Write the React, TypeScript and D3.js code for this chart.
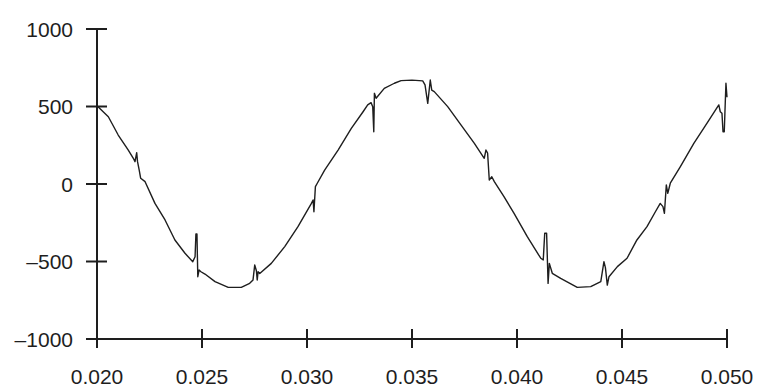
import React from "react";
import * as d3 from "d3";

const timeValues: number[] = [
  0.02, 0.02054, 0.02101, 0.02149, 0.02173, 0.02181, 0.02189, 0.02193, 0.02201, 0.02208,
  0.02229, 0.02276, 0.02324, 0.02371, 0.02419, 0.02456, 0.02467, 0.02471, 0.02476, 0.0248,
  0.02486, 0.02495, 0.02514, 0.02562, 0.02625, 0.02687, 0.02727, 0.02743, 0.02751, 0.02759,
  0.02763, 0.02767, 0.02775, 0.0283, 0.02894, 0.02957, 0.03021, 0.03029, 0.03033, 0.0304,
  0.03049, 0.03084, 0.03148, 0.03211, 0.03267, 0.03289, 0.03305, 0.03313, 0.03318, 0.03321,
  0.03329, 0.03368, 0.03416, 0.03448, 0.035, 0.03551, 0.03562, 0.03575, 0.03587, 0.03594,
  0.03606, 0.0367, 0.03733, 0.03797, 0.03844, 0.03852, 0.0386, 0.03868, 0.0388, 0.03892,
  0.03938, 0.03986, 0.04049, 0.04113, 0.04125, 0.04132, 0.04141, 0.04148, 0.04154, 0.04168,
  0.04208, 0.04287, 0.04351, 0.04399, 0.04414, 0.04421, 0.0443, 0.04438, 0.04478, 0.04524,
  0.04571, 0.04619, 0.04659, 0.04682, 0.04695, 0.04702, 0.04711, 0.04718, 0.0473, 0.04778,
  0.04842, 0.04905, 0.04961, 0.04968, 0.04976, 0.04981, 0.04987, 0.0499, 0.04995, 0.05
];

const voltageValues: number[] = [
  505, 434, 316, 219, 166, 144, 202, 144, 90, 37,
  15, -125, -232, -361, -447, -501, -469, -323, -323, -598,
  -555, -566, -581, -630, -667, -667, -641, -619, -523, -560,
  -619, -566, -577, -512, -404, -275, -125, -103, -179, -17,
  5, 90, 219, 359, 466, 510, 525, 499, 337, 585,
  553, 617, 650, 667, 670, 665, 639, 520, 671, 606,
  596, 499, 381, 262, 166, 219, 200, 26, 47, 15,
  -82, -189, -340, -479, -490, -318, -318, -641, -512, -576,
  -609, -667, -662, -630, -501, -540, -652, -598, -533, -479,
  -361, -275, -179, -125, -146, -189, -6, -60, 5, 112,
  262, 392, 510, 466, 456, 337, 337, 456, 650, 560
];

const xTicks: number[] = [0.02, 0.025, 0.03, 0.035, 0.04, 0.045, 0.05];
const xTickLabels: string[] = ["0.020", "0.025", "0.030", "0.035", "0.040", "0.045", "0.050"];
const yTicks: number[] = [1000, 500, 0, -500, -1000];
const yTickLabels: string[] = ["1000", "500", "0", "–500", "–1000"];

export default function App() {
  const W = 771;
  const H = 391;
  const left = 97;
  const right = 727;
  const top = 29;
  const bottom = 339;

  const x = d3.scaleLinear().domain([0.02, 0.05]).range([left, right]);
  const y = d3.scaleLinear().domain([-1000, 1000]).range([bottom, top]);

  const data = timeValues.map((t, i) => [t, voltageValues[i]] as [number, number]);
  const line = d3
    .line<[number, number]>()
    .x((d) => x(d[0]))
    .y((d) => y(d[1]))
    .curve(d3.curveLinear);

  const ink = "#1e1e1e";
  const font = "'Liberation Sans', Arial, Helvetica, sans-serif";

  return (
    <svg
      width={W}
      height={H}
      style={{ position: "absolute", left: 0, top: 0, background: "#fff" }}
    >
      <rect x={0} y={0} width={W} height={H} fill="#fff" />
      {/* axes */}
      <line x1={left} y1={top} x2={left} y2={bottom} stroke={ink} strokeWidth={2} />
      <line x1={left} y1={bottom} x2={right} y2={bottom} stroke={ink} strokeWidth={2} />
      {yTicks.map((v, i) => (
        <g key={"y" + i}>
          <line x1={left - 11} x2={left + 10} y1={y(v)} y2={y(v)} stroke={ink} strokeWidth={2} />
          <text
            x={73}
            y={y(v)}
            dy="0.36em"
            textAnchor="end"
            fontFamily={font}
            fontSize={21}
            fill={ink}
          >
            {yTickLabels[i]}
          </text>
        </g>
      ))}
      {xTicks.map((t, i) => (
        <g key={"x" + i}>
          <line x1={x(t)} x2={x(t)} y1={bottom - 10} y2={bottom + 9} stroke={ink} strokeWidth={2} />
          <text
            x={x(t)}
            y={384}
            textAnchor="middle"
            fontFamily={font}
            fontSize={21}
            fill={ink}
          >
            {xTickLabels[i]}
          </text>
        </g>
      ))}
      <path d={line(data) || ""} fill="none" stroke={ink} strokeWidth={1.4} strokeLinejoin="round" />
    </svg>
  );
}
